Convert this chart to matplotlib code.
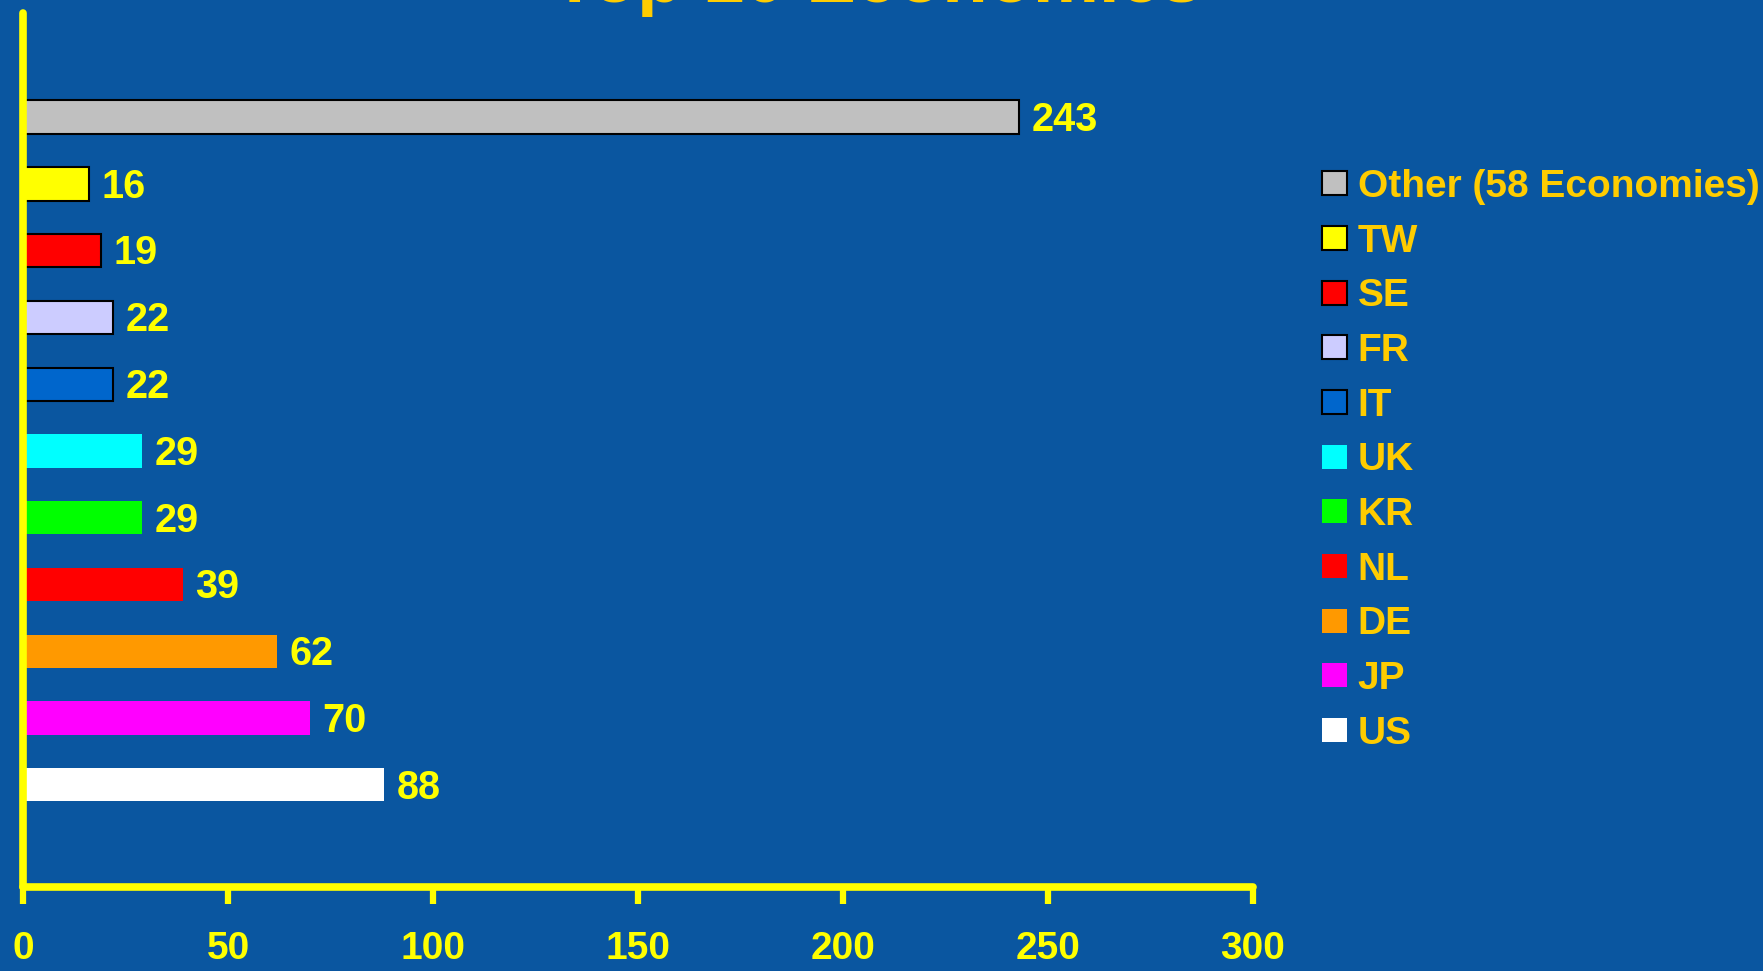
import matplotlib

matplotlib.use("Agg")
import matplotlib.pyplot as plt
import numpy as np

# ── Data (top to bottom as drawn) ──────────────────────────────────────
economies = ["Other (58 Economies)", "TW", "SE", "FR", "IT", "UK", "KR", "NL", "DE", "JP", "US"]
values = [243, 16, 19, 22, 22, 29, 29, 39, 62, 70, 88]
bar_colors = ["#C0C0C0", "#FFFF00", "#FF0000", "#CCCCFF", "#0066CC",
              "#00FFFF", "#00FF00", "#FF0000", "#FF9900", "#FF00FF", "#FFFFFF"]
outlined = [True, True, True, True, True, False, False, False, False, False, False]
x_ticks = [0, 50, 100, 150, 200, 250, 300]
title = "Top 10 Economies"

BG = "#0A56A0"
AXIS_YELLOW = "#FFFF00"
GOLD = "#FFCC00"

plt.rcParams["font.family"] = ["Liberation Sans", "DejaVu Sans"]
plt.rcParams["font.weight"] = "bold"

fig = plt.figure(figsize=(17.63, 9.71), dpi=100, facecolor=BG)
ax = fig.add_axes([0.01305, 0.0866, 0.6977, 0.9000])
ax.set_facecolor(BG)

ypos = np.arange(len(economies))[::-1]
bars = []
for y, v, c, edge, name in zip(ypos, values, bar_colors, outlined, economies):
    b = ax.barh(
        y, v, height=0.5, color=c,
        edgecolor="black" if edge else c,
        linewidth=1.5 if edge else 0,
        label=name,
    )
    bars.append(b)
    # value label just right of the bar end, nudged a bit down
    ax.annotate(str(v), xy=(v, y), xytext=(9, -2), textcoords="offset points",
                ha="left", va="center", color=AXIS_YELLOW,
                fontsize=28.5, fontweight="bold")

ax.set_xlim(0, 300)
ax.set_ylim(-1.53, 11.56)
ax.set_xticks(x_ticks)
ax.set_xticklabels([str(t) for t in x_ticks])
ax.set_yticks([])

for side in ("top", "right"):
    ax.spines[side].set_visible(False)
for side in ("left", "bottom"):
    ax.spines[side].set_color(AXIS_YELLOW)
    ax.spines[side].set_linewidth(5.5)
    ax.spines[side].set_capstyle("round")

ax.tick_params(axis="x", colors=AXIS_YELLOW, length=12, width=4.5, pad=20,
               labelsize=28)
for lbl in ax.get_xticklabels():
    lbl.set_fontweight("bold")

leg = fig.legend(
    handles=bars,
    loc="upper left",
    bbox_to_anchor=(0.7499, 0.826),
    frameon=False,
    fontsize=28,
    handlelength=0.64,
    handleheight=0.57,
    handletextpad=0.28,
    labelspacing=0.48,
    borderpad=0,
    borderaxespad=0,
)
for txt in leg.get_texts():
    txt.set_color(GOLD)
    txt.set_fontweight("bold")

fig.text(0.4975, 0.998, title, ha="center", va="baseline", color=GOLD,
         fontsize=53.5, fontweight="bold")

fig.savefig("out.png", dpi=100, facecolor=BG)
